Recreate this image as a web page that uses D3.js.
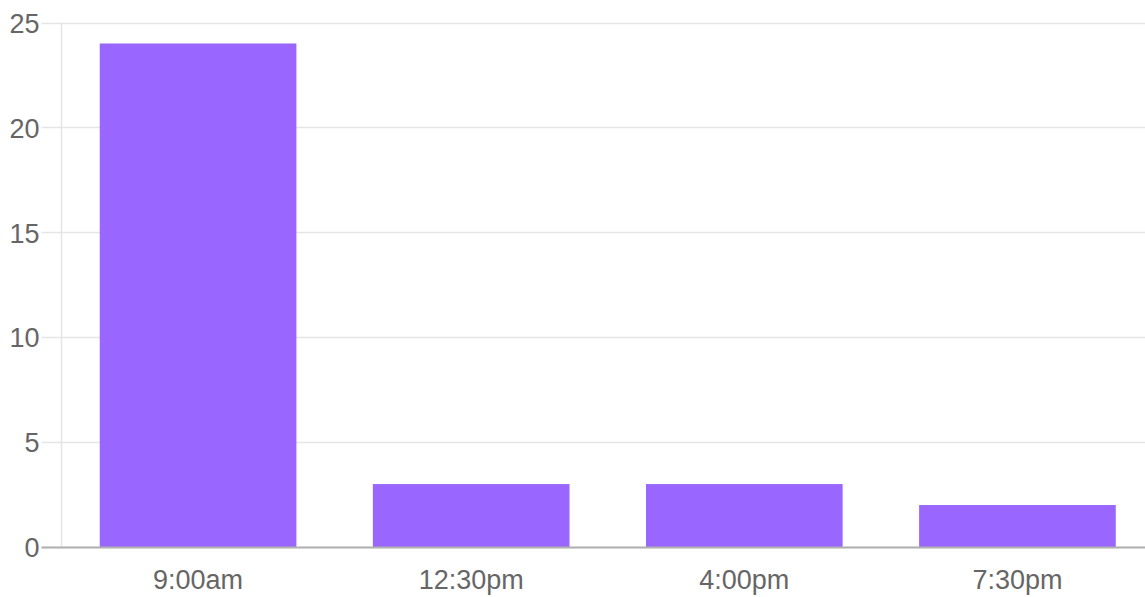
<!DOCTYPE html>
<html>
<head>
<meta charset="utf-8">
<script src="https://cdn.jsdelivr.net/npm/d3@7"></script>
<style>
  body { margin: 0; background: #fff; }
  svg { display: block; }
</style>
</head>
<body>
<div id="chart"></div>
<script>
// chart data
var categories = ["9:00am", "12:30pm", "4:00pm", "7:30pm"];
var counts = [24, 3, 3, 2];
var yTicks = [0, 5, 10, 15, 20, 25];

var W = 1145, H = 597;
var margin = { top: 22.5, right: -9, bottom: 50, left: 61.5 };
var height = H - margin.top - margin.bottom;

var svg = d3.select("#chart")
  .append("svg")
  .attr("width", W)
  .attr("height", H);

var x = d3.scaleBand()
  .domain(categories)
  .range([margin.left, W - margin.right])
  .paddingInner(0.28)
  .paddingOuter(0.14);

var y = d3.scaleLinear()
  .domain([0, 25])
  .range([margin.top + height, margin.top]);

var font = "Helvetica, Arial, 'Liberation Sans', sans-serif";

// horizontal grid lines (also used as tick marks)
svg.append("g")
  .selectAll("line")
  .data(yTicks)
  .enter()
  .append("line")
  .attr("x1", margin.left - 20)
  .attr("x2", W)
  .attr("y1", function(d) { return Math.round(y(d)) + 0.5; })
  .attr("y2", function(d) { return Math.round(y(d)) + 0.5; })
  .attr("stroke", "#e5e5e5")
  .attr("stroke-width", 1.5);

// left vertical grid line
svg.append("line")
  .attr("x1", margin.left)
  .attr("x2", margin.left)
  .attr("y1", margin.top)
  .attr("y2", y(0))
  .attr("stroke", "#e5e5e5")
  .attr("stroke-width", 1.5);

// bars
svg.selectAll(".bar")
  .data(counts)
  .enter()
  .append("rect")
  .attr("class", "bar")
  .attr("x", function(d, i) { return x(categories[i]); })
  .attr("y", function(d) { return y(d); })
  .attr("width", x.bandwidth())
  .attr("height", function(d) { return y(0) - y(d); })
  .attr("fill", "#9966ff");

// x axis line
svg.append("line")
  .attr("x1", margin.left - 20)
  .attr("x2", W)
  .attr("y1", y(0) + 0.5)
  .attr("y2", y(0) + 0.5)
  .attr("stroke", "#b0b0b0")
  .attr("stroke-width", 2);

// y axis labels
var yAxis = d3.axisLeft(y).tickValues(yTicks).tickSize(0).tickPadding(0);
var gy = svg.append("g")
  .attr("transform", "translate(" + (margin.left - 22) + ",0)")
  .call(yAxis);
gy.select(".domain").remove();
gy.selectAll("text")
  .attr("fill", "#666")
  .attr("dy", "0.36em")
  .style("font-family", font)
  .style("font-size", "27px");

// x axis labels
var xAxis = d3.axisBottom(x).tickSize(0).tickPadding(0);
var gx = svg.append("g")
  .attr("transform", "translate(0,589)")
  .call(xAxis);
gx.select(".domain").remove();
gx.selectAll("text")
  .attr("fill", "#666")
  .attr("y", 0)
  .attr("dy", 0)
  .style("font-family", font)
  .style("font-size", "27px");
</script>
</body>
</html>
